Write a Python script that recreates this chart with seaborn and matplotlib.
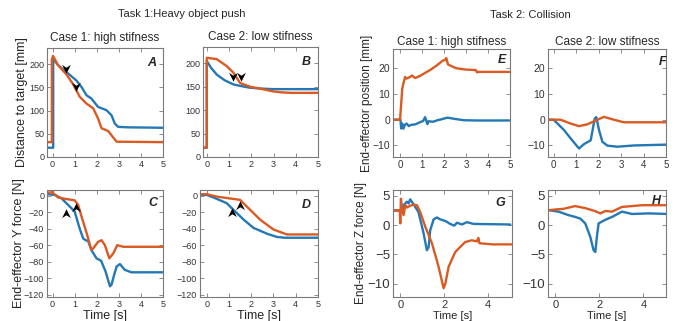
import numpy as np
import pandas as pd
import matplotlib
matplotlib.use("Agg")
import matplotlib.pyplot as plt
from matplotlib.path import Path
import seaborn as sns

# ---- data (time [s], value) ----
# Task 1, case 1: distance to target [mm]
a_blue_t = [-0.25, 0.03, 0.03, 0.25, 0.63, 1.08, 1.31, 1.54, 1.76, 2.06, 2.44, 2.67, 2.82, 2.97, 3.4, 5.0]
a_blue_v = [20, 20, 212, 198, 183, 165, 151, 133, 126, 108, 101, 90, 72, 65, 64, 63]
a_orng_t = [-0.25, -0.03, -0.03, 0.02, 0.25, 0.63, 0.93, 1.23, 1.54, 1.84, 2.06, 2.22, 2.52, 2.7, 2.9, 5.0]
a_orng_v = [32, 32, 210, 218, 198, 178, 157, 130, 115, 105, 83, 62, 56, 45, 33, 32]
a_arrows_t = [0.63, 1.04]
a_arrows_v = [191, 153]

# Task 1, case 2: distance to target [mm]
b_blue_t = [-0.25, 0.0, 0.0, 0.2, 0.45, 0.8, 1.2, 1.6, 1.95, 2.5, 3.0, 5.0]
b_blue_v = [20, 20, 205, 190, 176, 164, 155, 151, 148, 146, 145, 145]
b_orng_t = [-0.25, 0.0, 0.0, 0.45, 0.9, 1.2, 1.5, 1.95, 2.4, 2.7, 3.0, 3.4, 3.8, 5.0]
b_orng_v = [20, 20, 212, 209, 194, 180, 158, 150, 146, 143, 140, 138, 137, 137]
b_arrows_t = [1.19, 1.52]
b_arrows_v = [172, 172]

# Task 1, case 1: end-effector Y force [N]
c_blue_t = [-0.25, 0.1, 0.4, 0.7, 1.0, 1.23, 1.39, 1.5, 1.61, 1.76, 1.99, 2.2, 2.4, 2.52, 2.6, 2.67, 2.8, 2.9, 3.05, 3.27, 3.57, 5.0]
c_blue_v = [2, 1, -3, -11, -19, -40, -52, -54, -55, -66, -76, -79, -92, -103, -110, -108, -95, -86, -83, -90, -93, -93]
c_orng_t = [-0.25, -0.02, -0.02, 0.0, 0.0, 0.25, 0.63, 1.0, 1.16, 1.31, 1.54, 1.76, 1.84, 2.06, 2.22, 2.37, 2.57, 2.75, 2.93, 3.2, 5.0]
c_orng_v = [4, 4, 9, 9, 4, -2, -4, -5.5, -11, -25, -45, -66, -64, -56, -54, -60, -76, -70, -60, -62, -62]
c_arrows_t = [0.63, 1.05]
c_arrows_v = [-22, -15]

# Task 1, case 2: end-effector Y force [N]
d_blue_t = [-0.25, 0.0, 0.3, 0.9, 1.2, 1.66, 2.1, 2.7, 3.15, 3.5, 5.0]
d_blue_v = [1, 1, -2, -9, -17, -29, -39, -46, -50, -51, -51]
d_orng_t = [-0.25, 0.0, 0.45, 1.5, 1.8, 2.4, 3.0, 3.6, 4.0, 5.0]
d_orng_v = [2, 2, -1, -5, -13, -29, -41, -47, -47, -47]
d_arrows_t = [1.15, 1.49]
d_arrows_v = [-21, -13]

# Task 2, case 1: end-effector position [mm]
e_blue_t = [-0.3, 0.02, 0.05, 0.1, 0.15, 0.22, 0.3, 0.4, 0.5, 0.7, 0.9, 1.05, 1.14, 1.2, 1.24, 1.3, 1.5, 1.7, 1.9, 2.15, 2.5, 2.9, 3.5, 5.0]
e_blue_v = [0, 0, -3.4, -1.5, -3.5, -2.0, -1.5, -2.5, -2.0, -1.8, -1.0, -0.5, 1.0, -0.5, -1.7, -0.6, -0.8, -0.2, 0.2, 0.8, 0.3, -0.2, -0.3, -0.3]
e_orng_t = [-0.3, 0.0, 0.1, 0.15, 0.23, 0.3, 0.45, 0.55, 0.68, 0.9, 1.2, 1.4, 1.65, 1.95, 2.05, 2.1, 2.18, 2.3, 2.56, 3.0, 3.45, 3.5, 3.55, 5.0]
e_orng_v = [0, 0, 12, 14, 16.6, 16.0, 16.6, 17.2, 16.2, 17, 18.5, 19.5, 21, 23, 23.2, 24, 21.5, 21, 20, 19.5, 19.3, 18.4, 18.6, 18.6]

# Task 2, case 2: end-effector position [mm]
f_blue_t = [-0.3, 0.0, 0.46, 0.76, 1.13, 1.35, 1.65, 1.83, 1.9, 2.02, 2.17, 2.4, 2.84, 3.6, 5.0]
f_blue_v = [0, 0, -4, -7.3, -11.2, -9.5, -8, 0.5, 1, -4, -8.6, -10.1, -10.5, -10, -9.7]
f_orng_t = [-0.3, 0.31, 0.76, 1.13, 1.5, 1.87, 2.24, 2.68, 3.13, 5.0]
f_orng_v = [0, 0, -1.5, -2.5, -1.8, -0.3, 1.1, 0, -1, -1]

# Task 2, case 1: end-effector Z force [N]
g_blue_t = [-0.3, 0.1, 0.15, 0.3, 0.38, 0.45, 0.6, 0.83, 1.06, 1.21, 1.29, 1.36, 1.52, 1.67, 1.8, 1.97, 2.1, 2.27, 2.45, 2.58, 2.8, 3.03, 3.33, 5.0]
g_blue_v = [2.5, 2.5, 3.4, 4.0, 3.7, 4.4, 3.6, 2.2, -1.4, -4.3, -3.8, -0.9, 1.0, 1.3, 1.0, 0.8, 0.6, 0.2, -0.1, 0.4, 0.1, 0.5, 0.2, 0.1]
g_orng_t = [-0.3, -0.02, 0.0, 0.03, 0.08, 0.15, 0.23, 0.3, 0.45, 0.6, 0.76, 0.91, 1.14, 1.44, 1.74, 1.97, 2.05, 2.2, 2.5, 2.95, 3.26, 3.48, 3.55, 3.6, 4.18, 5.1]
g_orng_v = [2.5, 2.5, 0.3, 4.5, 3.0, 1.7, 3.4, 3.0, 3.3, 3.5, 3.4, 2.2, -0.3, -3.1, -7.1, -10.8, -10.0, -7.1, -4.6, -2.9, -2.6, -2.8, -2.2, -3.1, -3.3, -3.3]

# Task 2, case 2: end-effector Z force [N]
h_blue_t = [-0.3, 0.15, 0.6, 0.9, 1.14, 1.36, 1.59, 1.74, 1.82, 1.89, 1.97, 2.27, 2.58, 3.03, 3.48, 4.24, 5.1]
h_blue_v = [2.55, 2.3, 1.7, 1.4, 1.1, 0.3, -2.0, -4.3, -4.6, -2.0, 0.3, 0.9, 1.4, 2.3, 1.9, 2.0, 1.9]
h_orng_t = [-0.3, 0.4, 0.9, 1.36, 1.8, 2.05, 2.27, 2.58, 3.03, 3.94, 5.1]
h_orng_v = [2.55, 2.8, 3.25, 2.9, 2.4, 2.0, 2.4, 2.3, 3.1, 3.4, 3.4]

blue = "#2378b5"
orange = "#d95a22"

# ---- style ----
sns.set_style("ticks", {"axes.edgecolor": "#7a7a7a", "xtick.direction": "in",
                        "ytick.direction": "in", "xtick.color": "#7a7a7a",
                        "ytick.color": "#7a7a7a"})
plt.rcParams["font.family"] = ["Liberation Sans", "DejaVu Sans"]

W, H = 675, 321
fig = plt.figure(figsize=(W / 100, H / 100), dpi=100)


def add_ax(l, t, r, b):
    return fig.add_axes([l / W, 1 - b / H, (r - l) / W, (b - t) / H])


# arrowhead marker (notched triangle pointing down / up)
down_head = Path([(0, -1), (-0.85, 0.7), (0, 0.15), (0.85, 0.7), (0, -1)],
                 [Path.MOVETO, Path.LINETO, Path.LINETO, Path.LINETO, Path.CLOSEPOLY])
up_head = Path([(0, 1), (-0.85, -0.7), (0, -0.15), (0.85, -0.7), (0, 1)],
               [Path.MOVETO, Path.LINETO, Path.LINETO, Path.LINETO, Path.CLOSEPOLY])

panels = [
    dict(box=(47, 48, 163, 157), letter="A", lp=(0.9, 0.86),
         b=(a_blue_t, a_blue_v), o=(a_orng_t, a_orng_v), arr=(a_arrows_t, a_arrows_v, down_head),
         xlim=(-0.25, 5), ylim=(0, 235), xt=[0, 1, 2, 3, 4, 5], yt=[0, 50, 100, 150, 200],
         fs=6.5, xfs=6.5),
    dict(box=(203, 47, 318, 157), letter="B", lp=(0.9, 0.86),
         b=(b_blue_t, b_blue_v), o=(b_orng_t, b_orng_v), arr=(b_arrows_t, b_arrows_v, down_head),
         xlim=(-0.17, 5), ylim=(0, 235), xt=[0, 1, 2, 3, 4, 5], yt=[0, 50, 100, 150, 200],
         fs=6.5, xfs=6.5),
    dict(box=(47, 190, 163, 297), letter="C", lp=(0.91, 0.88),
         b=(c_blue_t, c_blue_v), o=(c_orng_t, c_orng_v), arr=(c_arrows_t, c_arrows_v, up_head),
         xlim=(-0.25, 5), ylim=(-123, 7), xt=[0, 1, 2, 3, 4, 5],
         yt=[0, -20, -40, -60, -80, -100, -120], fs=6.5, xfs=6.5),
    dict(box=(200, 190, 318, 297), letter="D", lp=(0.9, 0.86),
         b=(d_blue_t, d_blue_v), o=(d_orng_t, d_orng_v), arr=(d_arrows_t, d_arrows_v, up_head),
         xlim=(-0.3, 5), ylim=(-123, 7), xt=[0, 1, 2, 3, 4, 5],
         yt=[0, -20, -40, -60, -80, -100, -120], fs=6.5, xfs=6.5),
    dict(box=(393, 49, 510, 157), letter="E", lp=(0.93, 0.9),
         b=(e_blue_t, e_blue_v), o=(e_orng_t, e_orng_v), arr=None,
         xlim=(-0.32, 5), ylim=(-14.5, 27.5), xt=[0, 1, 2, 3, 4, 5], yt=[-10, 0, 10, 20],
         fs=7.5, xfs=7),
    dict(box=(548, 49, 666, 157), letter="F", lp=(0.975, 0.88),
         b=(f_blue_t, f_blue_v), o=(f_orng_t, f_orng_v), arr=None,
         xlim=(-0.25, 5), ylim=(-14.5, 27.5), xt=[0, 1, 2, 3, 4, 5], yt=[-10, 0, 10, 20],
         fs=7.5, xfs=7),
    dict(box=(393, 190, 512, 297), letter="G", lp=(0.9, 0.88),
         b=(g_blue_t, g_blue_v), o=(g_orng_t, g_orng_v), arr=None,
         xlim=(-0.33, 5.08), ylim=(-12.3, 6), xt=[0, 2, 4], yt=[-10, -5, 0, 5],
         fs=9.5, xfs=8),
    dict(box=(548, 190, 666, 297), letter="H", lp=(0.92, 0.9),
         b=(h_blue_t, h_blue_v), o=(h_orng_t, h_orng_v), arr=None,
         xlim=(-0.33, 5.03), ylim=(-12.3, 6), xt=[0, 2, 4], yt=[-10, -5, 0, 5],
         fs=9.5, xfs=8),
]

axes = []
for p in panels:
    ax = add_ax(*p["box"])
    sns.lineplot(x=p["b"][0], y=p["b"][1], ax=ax, color=blue, lw=1.7,
                 estimator=None, sort=False)
    sns.lineplot(x=p["o"][0], y=p["o"][1], ax=ax, color=orange, lw=1.7,
                 estimator=None, sort=False)
    if p["arr"] is not None:
        ax.scatter(p["arr"][0], p["arr"][1], marker=p["arr"][2], s=55,
                   color="black", zorder=5, linewidths=0)
    ax.set_xlim(*p["xlim"])
    ax.set_ylim(*p["ylim"])
    ax.set_xticks(p["xt"])
    ax.set_yticks(p["yt"])
    ax.tick_params(which="both", top=True, right=True, length=3, width=0.6,
                   labelcolor="#333333", pad=2)
    ax.tick_params(axis="y", labelsize=p["fs"])
    ax.tick_params(axis="x", labelsize=p["xfs"])
    for s in ax.spines.values():
        s.set_linewidth(0.8)
    ax.text(p["lp"][0], p["lp"][1], p["letter"], transform=ax.transAxes,
            fontsize=9, fontweight="bold", fontstyle="italic", ha="center", va="center")
    axes.append(ax)

axA, axB, axC, axD, axE, axF, axG, axH = axes

axA.set_title("Case 1: high stifness", fontsize=8.5, pad=5)
axB.set_title("Case 2: low stifness", fontsize=8.5, pad=5)
axE.set_title("Case 1: high stifness", fontsize=8.5, pad=3)
axF.set_title("Case 2: low stifness", fontsize=8.5, pad=3)

axA.set_ylabel("Distance to target [mm]", fontsize=9)
axA.yaxis.set_label_coords(-0.165, 0.5)
axC.set_ylabel("End-effector Y force [N]", fontsize=9)
axC.yaxis.set_label_coords(-0.19, 0.5)
axE.set_ylabel("End-effector position [mm]", fontsize=8.5)
axE.yaxis.set_label_coords(-0.17, 0.5)
axG.set_ylabel("End-effector Z force [N]", fontsize=8.5)
axG.yaxis.set_label_coords(-0.215, 0.5)

for ax in (axC, axD):
    ax.set_xlabel("Time [s]", fontsize=9, labelpad=1)
for ax in (axG, axH):
    ax.set_xlabel("Time [s]", fontsize=8)
    ax.xaxis.set_label_coords(0.5, -0.13)

fig.text(182 / W, 1 - 14 / H, "Task 1:Heavy object push", fontsize=8, ha="center", va="center")
fig.text(530 / W, 1 - 15 / H, "Task 2: Collision", fontsize=8, ha="center", va="center")

fig.savefig("out.png", dpi=100)
